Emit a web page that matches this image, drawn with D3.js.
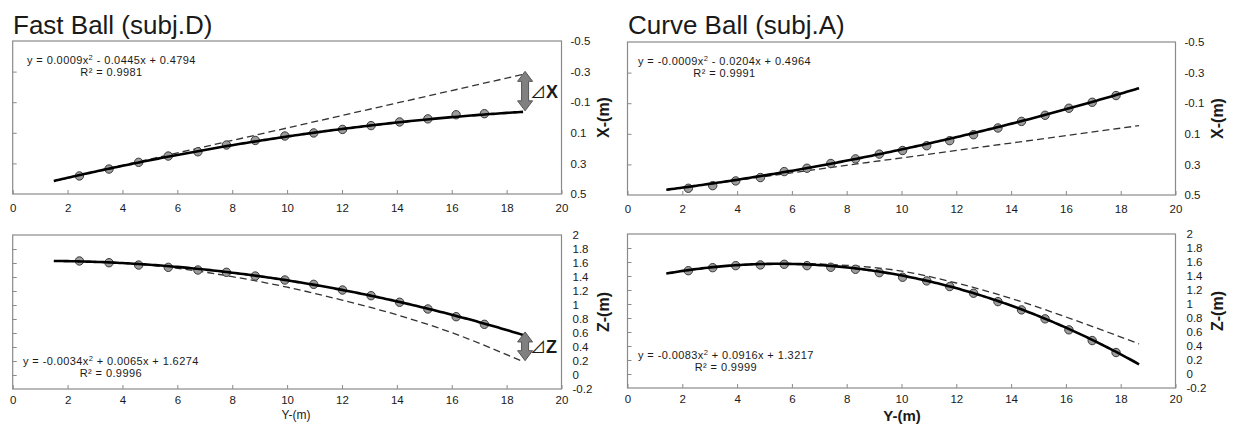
<!DOCTYPE html>
<html><head><meta charset="utf-8">
<script src="https://cdn.jsdelivr.net/npm/d3@7"></script>
<style>
body{margin:0;background:#fff;}
svg text{font-family:"Liberation Sans",Arial,Helvetica,sans-serif;fill:#1a1a1a;}
</style></head><body>
<svg id="c" width="1234" height="425"></svg>
<script>
// ---------- data ----------
const titles = ["Fast Ball (subj.D)", "Curve Ball (subj.A)"];
const xTickValues = [0,2,4,6,8,10,12,14,16,18,20];
const xTickLabels = ["0","2","4","6","8","10","12","14","16","18","20"];
const latTickValues = [-0.5,-0.3,-0.1,0.1,0.3,0.5];
const latTickLabels = ["-0.5","-0.3","-0.1","0.1","0.3","0.5"];
const vertTickValues = [2,1.8,1.6,1.4,1.2,1,0.8,0.6,0.4,0.2,0,-0.2];
const vertTickLabels = ["2","1.8","1.6","1.4","1.2","1","0.8","0.6","0.4","0.2","0","-0.2"];

// fast ball (subj.D) measured points
const fastY = [2.43,3.51,4.59,5.67,6.75,7.79,8.84,9.92,10.97,12.02,13.06,14.10,15.13,16.16,17.19];
const fastX = [0.382,0.337,0.293,0.252,0.224,0.180,0.150,0.121,0.101,0.078,0.053,0.029,0.009,-0.018,-0.025];
const fastZ = [1.629,1.604,1.571,1.538,1.500,1.467,1.414,1.357,1.295,1.214,1.133,1.039,0.943,0.833,0.724];
const fastRange = [1.5, 18.6];
const fastXFit = [0.0009, -0.0445, 0.4794];
const fastXR2 = "0.9981";
const fastZFit = [-0.0034, 0.0065, 1.6274];
const fastZR2 = "0.9996";
const fastXNoSpinY = [1.5, 18.6];
const fastXNoSpin = [0.415, -0.282];
const fastZNoSpinY = [1.5, 4, 6, 8, 10, 12, 14, 16, 18.6];
const fastZNoSpin = [1.628, 1.600, 1.525, 1.405, 1.255, 1.070, 0.860, 0.605, 0.190];

// curve ball (subj.A) measured points
const curveY = [2.22,3.11,3.95,4.85,5.72,6.55,7.42,8.32,9.19,10.04,10.92,11.76,12.63,13.52,14.38,15.24,16.11,16.96,17.83];
const curveX = [0.456,0.439,0.408,0.386,0.347,0.325,0.294,0.264,0.233,0.209,0.178,0.145,0.106,0.062,0.019,-0.021,-0.067,-0.106,-0.150];
const curveZ = [1.476,1.519,1.548,1.558,1.567,1.548,1.525,1.496,1.448,1.382,1.330,1.249,1.154,1.034,0.916,0.788,0.631,0.478,0.307];
const curveRange = [1.42, 18.67];
const curveXFit = [-0.0009, -0.0204, 0.4964];
const curveXR2 = "0.9991";
const curveZFit = [-0.0083, 0.0916, 1.3217];
const curveZR2 = "0.9999";
const curveXNoSpinY = [1.42, 18.67];
const curveXNoSpin = [0.466, 0.047];
const curveZNoSpinY = [1.42, 4, 6, 8, 10, 12, 14, 16, 18.67];
const curveZNoSpin = [1.435, 1.555, 1.578, 1.552, 1.470, 1.300, 1.080, 0.815, 0.430];

// ---------- drawing ----------
const svg = d3.select("#c");
const poly = (c, t) => c[0]*t*t + c[1]*t + c[2];
const fmt4 = d3.format(".4f");

function eqParts(c){
  const a = c[0] < 0 ? "-" + fmt4(-c[0]) : fmt4(c[0]);
  const b = (c[1] < 0 ? " - " : " + ") + fmt4(Math.abs(c[1])) + "x";
  const k = (c[2] < 0 ? " - " : " + ") + fmt4(Math.abs(c[2]));
  return ["y = " + a + "x", "2", b + k];
}

function panel(o){
  const g = svg.append("g");
  const x = d3.scaleLinear().domain([0,20]).range([o.x0, o.x1]);
  const y = d3.scaleLinear().domain(o.domain).range([o.y0, o.y1]);

  g.append("rect").attr("x", o.x0).attr("y", o.y0)
    .attr("width", o.x1 - o.x0).attr("height", o.y1 - o.y0)
    .attr("fill", "#fff").attr("stroke", "#8a8a8a").attr("stroke-width", 1.2);

  // inner tick marks on the left border
  const inner = o.ticks.filter(v => v !== o.domain[0] && v !== o.domain[1]);
  const la = g.append("g").attr("transform", `translate(${o.x0},0)`)
    .call(d3.axisLeft(y).tickValues(inner).tickFormat("").tickSizeInner(-4).tickSizeOuter(0));
  la.select(".domain").remove();
  la.selectAll("line").attr("stroke", "#8a8a8a");

  // bottom axis
  const ba = g.append("g").attr("transform", `translate(0,${o.y1})`)
    .call(d3.axisBottom(x).tickValues(xTickValues).tickFormat((d,i) => xTickLabels[i])
      .tickSizeInner(-4).tickSizeOuter(0).tickPadding(o.xPad));
  ba.select(".domain").remove();
  ba.selectAll("line").attr("stroke", "#8a8a8a");
  ba.selectAll("text").attr("font-size", 11.5).attr("fill", "#222")
    .attr("font-family", "Liberation Sans, Arial, sans-serif");

  // right labels
  const ra = g.append("g").attr("transform", `translate(${o.x1},0)`)
    .call(d3.axisRight(y).tickValues(o.ticks).tickFormat((d,i) => o.tickLabels[i])
      .tickSize(0).tickPadding(o.rPad));
  ra.select(".domain").remove();
  ra.selectAll("text").attr("font-size", 11.5).attr("fill", "#222")
    .attr("font-family", "Liberation Sans, Arial, sans-serif");

  // right axis title
  g.append("text").attr("transform", `translate(${o.x1 + 42},${(o.y0+o.y1)/2}) rotate(-90)`)
    .attr("text-anchor", "middle").attr("dy", "0.35em")
    .attr("font-size", 16).attr("font-weight", "bold").text(o.yTitle);

  // no-spin (dashed) reference
  const nos = o.nsY.map((v,i) => [v, o.ns[i]]);
  g.append("path").datum(nos)
    .attr("d", d3.line().x(d => x(d[0])).y(d => y(d[1])).curve(d3.curveMonotoneX))
    .attr("fill", "none").attr("stroke", "#333").attr("stroke-width", 1.3)
    .attr("stroke-dasharray", "7,4");

  // measured points
  g.selectAll("circle.pt").data(o.py.map((v,i) => [v, o.pv[i]])).join("circle")
    .attr("class", "pt").attr("cx", d => x(d[0])).attr("cy", d => y(d[1])).attr("r", 4.2)
    .attr("fill", "#9c9c9c").attr("stroke", "#3a3a3a").attr("stroke-width", 1);

  // trendline from displayed regression coefficients
  const ts = d3.range(o.range[0], o.range[1], 0.1).concat([o.range[1]]);
  g.append("path").datum(ts)
    .attr("d", d3.line().x(t => x(t)).y(t => y(poly(o.fit, t))))
    .attr("fill", "none").attr("stroke", "#000").attr("stroke-width", 2.6);

  // equation
  const p = eqParts(o.fit);
  const eq = g.append("text").attr("x", o.eqX).attr("y", o.eqY).attr("font-size", 11)
    .attr("letter-spacing", 0.4);
  eq.append("tspan").text(p[0]);
  eq.append("tspan").attr("dy", -4).attr("font-size", 7.5).text(p[1]);
  eq.append("tspan").attr("dy", 4).text(p[2]);
  const w = eq.node().getComputedTextLength();
  g.append("text").attr("x", o.eqX + w/2).attr("y", o.eqY + 12.4)
    .attr("text-anchor", "middle").attr("font-size", 11).attr("letter-spacing", 0.4)
    .text("R² = " + o.r2);

  // difference arrow
  if (o.delta){
    const ax = x(o.range[1]) + 2;
    const yA = y(o.ns[o.ns.length-1]);
    const yB = y(poly(o.fit, o.range[1]));
    const top = Math.min(yA, yB) - 3, bot = Math.max(yA, yB) - 1;
    const hl = 10, hw = 7.5, sw = 3.5;
    const pts = [[ax, top],[ax+hw, top+hl],[ax+sw, top+hl],[ax+sw, bot-hl],[ax+hw, bot-hl],
                 [ax, bot],[ax-hw, bot-hl],[ax-sw, bot-hl],[ax-sw, top+hl],[ax-hw, top+hl]];
    g.append("path").attr("d", "M" + pts.map(q => q.join(",")).join("L") + "Z")
      .attr("fill", "#808080").attr("stroke", "#555").attr("stroke-width", 1);
    const lt = g.append("text").attr("x", ax + 5).attr("y", (top+bot)/2 + 7);
    lt.append("tspan").attr("font-family", "Noto Sans CJK JP, DejaVu Sans, sans-serif")
      .attr("font-size", 16).text("⊿");
    lt.append("tspan").attr("font-size", 18).attr("font-weight", "bold").text(o.delta);
  }
  return {x, y};
}

// titles
svg.append("text").attr("x", 13).attr("y", 34).attr("font-size", 26).text(titles[0]);
svg.append("text").attr("x", 628).attr("y", 34).attr("font-size", 26).text(titles[1]);

// Fast ball, lateral
panel({x0:12.7, x1:561.5, y0:41, y1:194, domain:[-0.5,0.5], ticks:latTickValues, tickLabels:latTickLabels,
  xPad:10, rPad:9, yTitle:"X-(m)", py:fastY, pv:fastX, range:fastRange, fit:fastXFit, r2:fastXR2,
  nsY:fastXNoSpinY, ns:fastXNoSpin, eqX:27, eqY:64, delta:"X"});
// Fast ball, vertical
panel({x0:12.7, x1:561.5, y0:235, y1:389, domain:[2,-0.2], ticks:vertTickValues, tickLabels:vertTickLabels,
  xPad:7, rPad:11, yTitle:"Z-(m)", py:fastY, pv:fastZ, range:fastRange, fit:fastZFit, r2:fastZR2,
  nsY:fastZNoSpinY, ns:fastZNoSpin, eqX:23, eqY:365, delta:"Z"});
// Curve ball, lateral
panel({x0:627.5, x1:1175.5, y0:42, y1:195, domain:[-0.5,0.5], ticks:latTickValues, tickLabels:latTickLabels,
  xPad:10, rPad:9, yTitle:"X-(m)", py:curveY, pv:curveX, range:curveRange, fit:curveXFit, r2:curveXR2,
  nsY:curveXNoSpinY, ns:curveXNoSpin, eqX:638, eqY:65, delta:null});
// Curve ball, vertical
panel({x0:627.5, x1:1175.5, y0:234, y1:388, domain:[2,-0.2], ticks:vertTickValues, tickLabels:vertTickLabels,
  xPad:7, rPad:11, yTitle:"Z-(m)", py:curveY, pv:curveZ, range:curveRange, fit:curveZFit, r2:curveZR2,
  nsY:curveZNoSpinY, ns:curveZNoSpin, eqX:638, eqY:359, delta:null});

// x-axis titles
svg.append("text").attr("x", 296).attr("y", 419).attr("text-anchor", "middle").attr("font-size", 12).text("Y-(m)");
svg.append("text").attr("x", 902).attr("y", 421).attr("text-anchor", "middle").attr("font-size", 15)
  .attr("font-weight", "bold").text("Y-(m)");
</script>
</body></html>
